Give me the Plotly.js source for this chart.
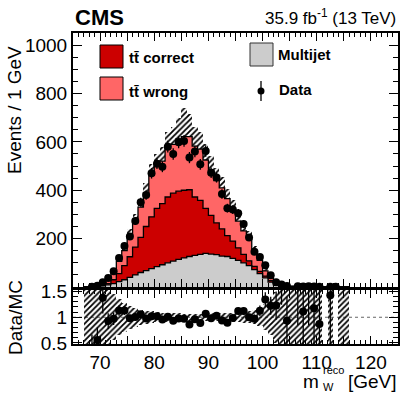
<!DOCTYPE html>
<html><head><meta charset="utf-8">
<script src="https://cdn.plot.ly/plotly-3.0.1.min.js"></script>
<style>html,body{margin:0;padding:0;background:#fff}#c{width:400px;height:394px}</style>
</head><body><div id="c"></div>
<script>
const binCenters = [67.5,68.5,69.5,70.5,71.5,72.5,73.5,74.5,75.5,76.5,77.5,78.5,79.5,80.5,81.5,82.5,83.5,84.5,85.5,86.5,87.5,88.5,89.5,90.5,91.5,92.5,93.5,94.5,95.5,96.5,97.5,98.5,99.5,100.5,101.5,102.5,103.5,104.5,105.5,106.5,107.5,108.5,109.5,110.5,111.5,112.5,113.5,114.5,115.5];
const multijet = [0.3,1,2.5,5,9,14,22,30,40,50,60,68,76,84,92,100,107,114,120,126,131,135,139,136,134,128,126,118,110,100,88,72,55,38,20,8,3,2,1.5,0.8,1,0.8,1,0.7,0,0.4,0,0.3,0.3];
const ttCorrect = [0.2,0.5,1.5,3,5,16,33,58,85,115,145,182,214,241,253,272,281,282,280,276,241,223,186,160,131,112,86,72,52,35,20,13,10,7,6,3,1,0.5,0.5,0.3,0.3,0.3,0.2,0.2,0,0.1,0,0.1,0];
const ttWrong = [0.5,1.5,5,6.5,26,37,51,62,88,107,125,140,172,175,175,203,202,216,222,220,210,212,200,186,175,170,153,135,110,97,97,65,45,22,14,5.3,1.5,1.8,1,0.4,0.5,0.4,0.5,0.25,0,0.2,0,0.1,0.1];
const dataCounts = [0,1,5,20,37,65,120,170,209,273,350,380,470,510,497,580,550,598,604,535,560,507,562,472,453,384,326,320,305,260,205,146,124,90,49,20,10,4,0,3,2,3,2,1,0,1,1,0,0];
const mcUncAbs = [1,2,4,5,8,12,15,20,25,28,33,38,45,50,60,65,70,85,120,95,80,70,65,58,50,45,40,35,30,28,25,20,15,12,9,6,4,3,2,1.5,1.5,1.5,1.5,1,0,0.7,0,0.5,0.4];
const ratioUncRel = [1,1,1,1,0.6,0.45,0.35,0.28,0.22,0.18,0.15,0.13,0.12,0.1,0.09,0.09,0.08,0.08,0.07,0.07,0.07,0.07,0.07,0.08,0.08,0.08,0.09,0.09,0.1,0.11,0.12,0.14,0.17,0.25,0.35,0.5,1,1,1,1,1,1,1,1,0,1,0,1,1];
const xTickVals = [65,70,75,80,85,90,95,100,105,110,115,120,125];
const xTickText = ['','70','','80','','90','','100','','110','','120',''];
const yTickVals = [200,400,600,800,1000];
const yTickText = ['200','400','600','800','1000'];
const ratioTickVals = [0.5,1,1.5];
const ratioTickText = ['0.5','1','1.5'];

const colCorrect = '#cc0000', colWrong = '#ff6666', colMJ = '#cccccc';
const FONT = 'Liberation Sans, Arial, Helvetica, sans-serif';

const lvlGray = multijet.slice();
const lvlDark = multijet.map((v,i)=>v+ttCorrect[i]);
const lvlTotal = lvlDark.map((v,i)=>v+ttWrong[i]);

function stepTrace(levels, fill){
  const xs=[binCenters[0]-0.5], ys=[0];
  levels.forEach((v,i)=>{xs.push(binCenters[i]-0.5); ys.push(v);});
  const last = binCenters[binCenters.length-1]+0.5;
  xs.push(last); ys.push(levels[levels.length-1]);
  xs.push(last); ys.push(0);
  return {type:'scatter', x:xs, y:ys, xaxis:'x', yaxis:'y', mode:'lines',
    line:{shape:'hv', color:'#000', width:1.3}, fill:'tozeroy', fillcolor:fill,
    hoverinfo:'skip', showlegend:false};
}
const hatch = {shape:'/', fgcolor:'#000', fgopacity:1, bgcolor:'rgba(0,0,0,0)', size:4, solidity:0.45, fillmode:'overlay'};

const traces = [
  stepTrace(lvlTotal, colWrong),
  stepTrace(lvlDark, colCorrect),
  stepTrace(lvlGray, colMJ),
  {type:'bar', x:binCenters, base:lvlTotal.map((v,i)=>mcUncAbs[i]>0? v-mcUncAbs[i]:null),
   y:mcUncAbs.map(u=>u>0?2*u:null), width:1, xaxis:'x', yaxis:'y',
   marker:{color:'rgba(0,0,0,0)', line:{width:0}, pattern:hatch}, hoverinfo:'skip', showlegend:false},
  {type:'scatter', mode:'markers', x:binCenters, y:dataCounts.map(v=>v>0?v:null), xaxis:'x', yaxis:'y',
   marker:{color:'#000', size:8},
   error_y:{type:'data', array:dataCounts.map(v=>Math.sqrt(v)), visible:true, color:'#000', thickness:1.3, width:0},
   showlegend:false, cliponaxis:true},
  {type:'bar', x:binCenters, base:ratioUncRel.map(r=>r>0?1-r:null), y:ratioUncRel.map(r=>r>0?2*r:null),
   width:1, xaxis:'x2', yaxis:'y2',
   marker:{color:'rgba(0,0,0,0)', line:{width:0}, pattern:hatch}, hoverinfo:'skip', showlegend:false},
  {type:'scatter', mode:'markers', x:binCenters,
   y:dataCounts.map((v,i)=>(v>0 && lvlTotal[i]>0)? v/lvlTotal[i] : null), xaxis:'x2', yaxis:'y2',
   marker:{color:'#000', size:8},
   error_y:{type:'data', array:dataCounts.map((v,i)=>lvlTotal[i]>0? Math.sqrt(v)/lvlTotal[i]:0), visible:true, color:'#000', thickness:1.3, width:0},
   showlegend:false, cliponaxis:true}
];

const L=73, T=33, PW=325, PH=311;
const px = X => (X-L)/PW;
const py = Y => (T+PH-Y)/PH;

const axisCommon = {showline:true, mirror:'allticks', linecolor:'#000', linewidth:2, ticks:'inside',
  tickcolor:'#000', tickwidth:1, showgrid:false, zeroline:false, tickfont:{family:FONT, size:19, color:'#000'}};

const layout = {
  width:400, height:394, margin:{l:L, r:2, t:T, b:50}, paper_bgcolor:'#fff', plot_bgcolor:'rgba(0,0,0,0)',
  showlegend:false, bargap:0, barmode:'overlay', font:{family:FONT, color:'#000'},
  xaxis:Object.assign({}, axisCommon, {domain:[0,1], range:[65,125], anchor:'y', tickmode:'array', tickvals:xTickVals,
    ticktext:xTickVals.map(()=>' '), showticklabels:false, ticklen:8,
    minor:{tickmode:'linear', tick0:65, dtick:1, ticklen:4, ticks:'inside', tickcolor:'#000'}}),
  yaxis:Object.assign({}, axisCommon, {domain:[py(287),1], range:[0,1050], anchor:'x', tickmode:'array',
    tickvals:yTickVals, ticktext:yTickText, ticklen:9,
    minor:{tickmode:'linear', tick0:0, dtick:50, ticklen:5, ticks:'inside', tickcolor:'#000'}}),
  xaxis2:Object.assign({}, axisCommon, {domain:[0,1], range:[65,125], anchor:'y2', matches:'x', tickmode:'array',
    tickvals:xTickVals, ticktext:xTickText, ticklen:8,
    minor:{tickmode:'linear', tick0:65, dtick:1, ticklen:4, ticks:'inside', tickcolor:'#000'}}),
  yaxis2:Object.assign({}, axisCommon, {domain:[0,py(290)], range:[0.48,1.53], anchor:'x2', tickmode:'array',
    tickvals:ratioTickVals, ticktext:ratioTickText, ticklen:9,
    minor:{tickmode:'linear', tick0:0, dtick:0.1, ticklen:5, ticks:'inside', tickcolor:'#000'}}),
  shapes:[
    {type:'line', xref:'x2 domain', yref:'y2', x0:0, x1:1, y0:1, y1:1, line:{color:'#666', width:1, dash:'dot'}, layer:'below'},
    {type:'rect', xref:'paper', yref:'paper', x0:px(100), x1:px(123), y0:py(68), y1:py(45), fillcolor:colCorrect, line:{color:'#000', width:1}},
    {type:'rect', xref:'paper', yref:'paper', x0:px(100), x1:px(123), y0:py(100), y1:py(77), fillcolor:colWrong, line:{color:'#000', width:1}},
    {type:'rect', xref:'paper', yref:'paper', x0:px(250), x1:px(273), y0:py(66), y1:py(43), fillcolor:colMJ, line:{color:'#333', width:1}},
    {type:'line', xref:'paper', yref:'paper', x0:px(261), x1:px(261), y0:py(101), y1:py(81), line:{color:'#000', width:1.3}},
    {type:'circle', xref:'paper', yref:'paper', x0:px(257.5), x1:px(264.5), y0:py(94.5), y1:py(87.5), fillcolor:'#000', line:{color:'#000', width:0}}
  ],
  annotations:[
    {text:'<b>CMS</b>', xref:'paper', yref:'paper', x:0, y:py(17), xanchor:'left', yanchor:'middle', showarrow:false, font:{family:FONT, size:22}},
    {text:'35.9 fb<sup>-1</sup> (13 TeV)', xref:'paper', yref:'paper', x:1, y:py(17), xanchor:'right', yanchor:'middle', showarrow:false, font:{family:FONT, size:17}},
    {text:'Events / 1 GeV', textangle:-90, xref:'paper', yref:'paper', x:px(15), y:py(110), xanchor:'center', yanchor:'middle', showarrow:false, font:{family:FONT, size:19}},
    {text:'Data/MC', textangle:-90, xref:'paper', yref:'paper', x:px(15), y:py(318), xanchor:'center', yanchor:'middle', showarrow:false, font:{family:FONT, size:19}},
    {text:'m', xref:'paper', yref:'paper', x:px(320), y:py(381), xanchor:'right', yanchor:'middle', showarrow:false, borderpad:0, font:{family:FONT, size:19}},
    {text:'reco', xref:'paper', yref:'paper', x:px(322), y:py(370), xanchor:'left', yanchor:'middle', showarrow:false, borderpad:0, font:{family:FONT, size:11}},
    {text:'W', xref:'paper', yref:'paper', x:px(322), y:py(387), xanchor:'left', yanchor:'middle', showarrow:false, borderpad:0, font:{family:FONT, size:11}},
    {text:'[GeV]', xref:'paper', yref:'paper', x:1, y:py(381), xanchor:'right', yanchor:'middle', showarrow:false, borderpad:0, font:{family:FONT, size:19}},
    {text:'<b>tt\u0304 correct</b>', xref:'paper', yref:'paper', x:px(127), y:py(58), xanchor:'left', yanchor:'middle', showarrow:false, font:{family:FONT, size:15}},
    {text:'<b>tt\u0304 wrong</b>', xref:'paper', yref:'paper', x:px(127), y:py(91), xanchor:'left', yanchor:'middle', showarrow:false, font:{family:FONT, size:15}},
    {text:'<b>Multijet</b>', xref:'paper', yref:'paper', x:px(276), y:py(55), xanchor:'left', yanchor:'middle', showarrow:false, font:{family:FONT, size:15}},
    {text:'<b>Data</b>', xref:'paper', yref:'paper', x:px(277), y:py(90), xanchor:'left', yanchor:'middle', showarrow:false, font:{family:FONT, size:15}}
  ]
};
Plotly.newPlot('c', traces, layout, {staticPlot:true, displayModeBar:false});
</script>
</body></html>
